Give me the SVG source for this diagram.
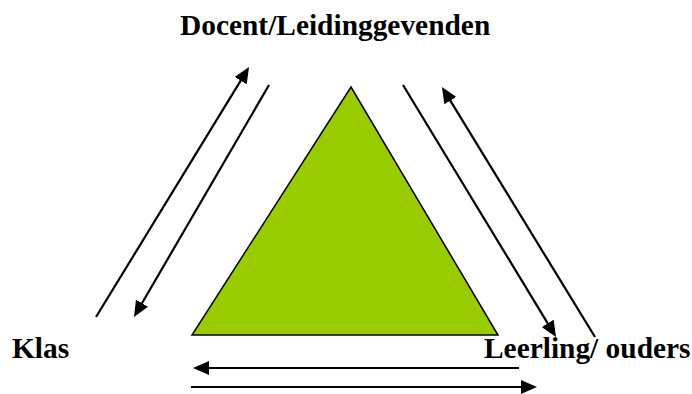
<svg xmlns="http://www.w3.org/2000/svg" width="692" height="394" viewBox="0 0 692 394">
  <style>
    .lbl { font-family: "Liberation Serif", "Times New Roman", serif; font-weight: bold; font-size: 29.4px; fill: #000; }
    .conn { stroke: #000; stroke-width: 2.2; fill: none; marker-end: url(#ah); }
  </style>
  <defs>
    <marker id="ah" viewBox="0 0 16 14" refX="10" refY="7" markerWidth="16" markerHeight="14" markerUnits="userSpaceOnUse" orient="auto">
      <path d="M0,0 L16,7 L0,14 Z" fill="#000"/>
    </marker>
  </defs>
  <rect width="692" height="394" fill="#fff"/>
  <g id="triangle">
    <polygon points="351,87 192,335 498,335" fill="#99CC00" stroke="#000" stroke-width="1.5"/>
  </g>
  <g id="node-docent">
    <text class="lbl" x="180" y="35">Docent/Leidinggevenden</text>
  </g>
  <g id="node-klas">
    <text class="lbl" x="12" y="358">Klas</text>
  </g>
  <g id="node-leerling">
    <text class="lbl" x="484" y="358">Leerling/ ouders</text>
  </g>
  <g id="connectors">
    <line class="conn" x1="96" y1="317" x2="245.9" y2="72.1"/>
    <line class="conn" x1="269" y1="85" x2="137" y2="311.8"/>
    <line class="conn" x1="403" y1="85" x2="552.9" y2="331.9"/>
    <line class="conn" x1="595" y1="337" x2="445.1" y2="92.1"/>
    <line class="conn" x1="519" y1="368" x2="199" y2="368"/>
    <line class="conn" x1="191" y1="387" x2="531" y2="387"/>
  </g>
</svg>
